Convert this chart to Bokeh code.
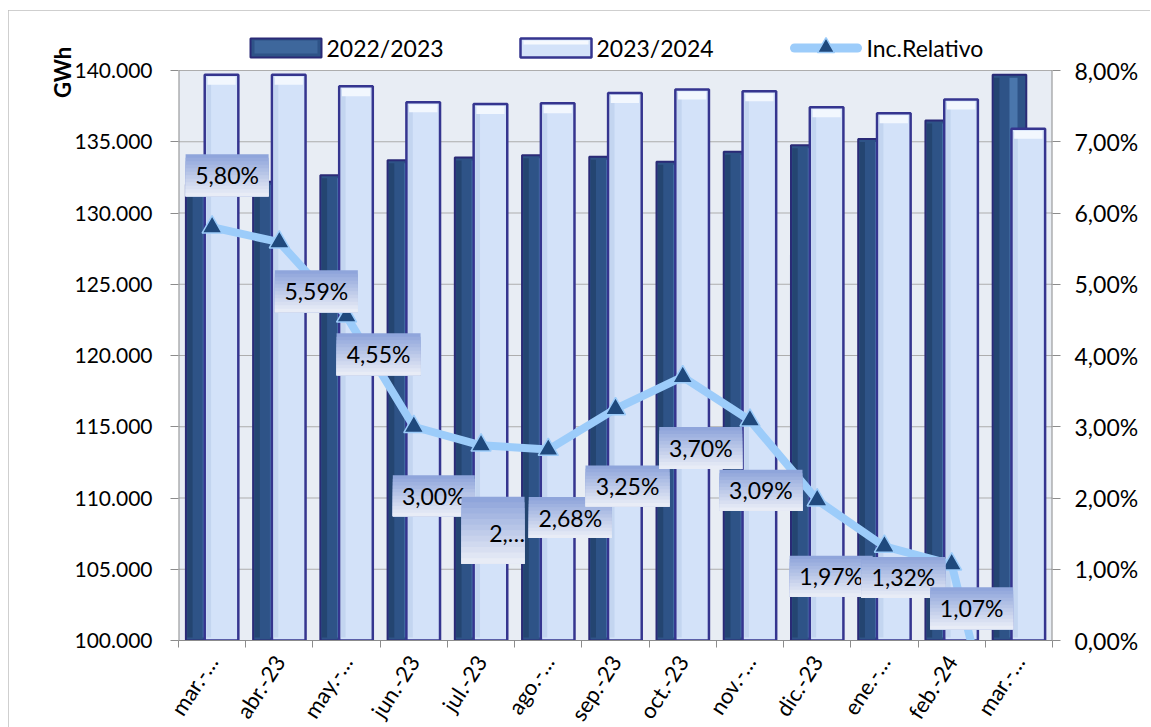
from math import pi, radians
from bokeh.plotting import figure
from bokeh.models import Range1d, LinearAxis, FixedTicker
from bokeh.core.properties import value
from bokeh.embed import file_html
from bokeh.resources import INLINE

# ---------------- data ----------------
months = ["mar.-…", "abr.-23", "may.-…", "jun.-23", "jul.-23", "ago.-…", "sep.-23",
          "oct.-23", "nov.-…", "dic.-23", "ene.-…", "feb.-24", "mar.-…"]
demand_2022_23 = [132000, 132200, 132650, 133700, 133900, 134050, 133950,
                  133600, 134300, 134750, 135200, 136500, 139700]
demand_2023_24 = [139700, 139700, 138900, 137770, 137650, 137700, 138420,
                  138660, 138550, 137420, 137000, 137960, 135920]
inc_rel_pct = [5.80, 5.59, 4.55, 3.00, 2.74, 2.68, 3.25, 3.70, 3.09, 1.97, 1.32, 1.07, -2.71]
inc_labels = ["5,80%", "5,59%", "4,55%", "3,00%", "2,…", "2,68%", "3,25%",
              "3,70%", "3,09%", "1,97%", "1,32%", "1,07%", ""]
series_names = ["2022/2023", "2023/2024", "Inc.Relativo"]
left_ticks = [100000, 105000, 110000, 115000, 120000, 125000, 130000, 135000, 140000]
left_tick_labels = ["100.000", "105.000", "110.000", "115.000", "120.000",
                    "125.000", "130.000", "135.000", "140.000"]
right_ticks = [0, 1, 2, 3, 4, 5, 6, 7, 8]
right_tick_labels = ["0,00%", "1,00%", "2,00%", "3,00%", "4,00%",
                     "5,00%", "6,00%", "7,00%", "8,00%"]
y_title = "GWh"

# ---------------- layout / style ----------------
FW, FH_AREA = 874, 570          # plot-area size in px
TOP_EXTRA = 44                  # px of frame above the plot area (legend strip)
FH = FH_AREA + TOP_EXTRA
XMIN, XMAX = -0.5, 12.5
YMIN, YMAX = 100000, 140000
PMIN, PMAX = 0, 8
px_x = (XMAX - XMIN) / FW
px_y = (YMAX - YMIN) / FH_AREA
px_p = (PMAX - PMIN) / FH_AREA
FRAME_L, AREA_B = 178, 640      # page px of plot-area left / bottom


def dx_(px):
    return XMIN + (px - FRAME_L) * px_x


def dy_(py):
    return YMIN + (AREA_B - py) * px_y


# data-label boxes: (dx, dy) offset of box centre from point in px (screen, y down), box w, h
label_layout = [(15, -52, 83, 42), (37, 49, 83, 42), (32, 38, 84, 42), (20, 69, 82, 41),
                (12, 85, 63, 67), (22, 68, 83, 41), (12, 77, 84, 41), (18, 71, 83, 42),
                (11, 70, 83, 41), (14, 76, 83, 41), (19, 31, 84, 41), (20, 44, 83, 42)]
text_shift = [(0, 0)] * 4 + [(14, 3)] + [(0, 0)] * 7
legend_swatch_px = [250, 520, 790]
FONT = "Lato"
DARK_FILL, DARK_LINE = "#2E5387", "#2A2A76"
LIGHT_FILL, LIGHT_LINE = "#D3E2F9", "#35358F"
LINE_COL, MARK_COL = "#9CCCFA", "#1F497D"

p = figure(frame_width=FW, frame_height=FH,
           x_range=Range1d(XMIN, XMAX),
           y_range=Range1d(YMIN, YMAX + TOP_EXTRA * px_y),
           output_backend="svg", toolbar_location=None,
           min_border_left=170, min_border_right=98, min_border_top=16, min_border_bottom=87)
p.margin = (10, 1, 0, 8)
p.styles = {"outline": "1px solid #BFBFBF", "outline-offset": "-1px"}
p.extra_y_ranges = {"pct": Range1d(PMIN, PMAX + TOP_EXTRA * px_p)}
p.background_fill_color = "white"
p.border_fill_color = "white"
p.outline_line_color = None
p.xgrid.visible = False
p.ygrid.visible = False

# plot area
p.quad(left=[XMIN], right=[XMAX], bottom=[YMIN], top=[YMAX],
       fill_color="#E8EDF4", line_color=None)
p.segment(x0=[XMIN] * len(left_ticks), x1=[XMAX] * len(left_ticks),
          y0=left_ticks, y1=left_ticks, line_color="#ADADAD", line_width=1)
p.segment(x0=[XMIN, XMAX], x1=[XMIN, XMAX], y0=[YMIN, YMIN], y1=[YMAX, YMAX],
          line_color="#8C8C8C", line_width=2)

xs = list(range(len(months)))
dark_x = [x - 0.14 for x in xs]
light_x = [x + 0.14 for x in xs]
BW = 0.5

p.vbar(x=dark_x, top=demand_2022_23, bottom=YMIN, width=BW,
       fill_color=DARK_FILL, line_color=DARK_LINE, line_width=2)
p.vbar(x=[x + 0.06 for x in dark_x], top=[v - 3 * px_y for v in demand_2022_23],
       bottom=YMIN + 3 * px_y, width=0.12, fill_color="#4A76AC", line_color=None)
p.vbar(x=[x - 0.19 for x in dark_x], top=[v - 3 * px_y for v in demand_2022_23],
       bottom=YMIN + 3 * px_y, width=0.08, fill_color="#244571", line_color=None)
p.vbar(x=light_x, top=demand_2023_24, bottom=YMIN, width=BW,
       fill_color=LIGHT_FILL, line_color=LIGHT_LINE, line_width=2.5)
p.vbar(x=[x - 0.19 for x in light_x], top=[v - 3 * px_y for v in demand_2023_24],
       bottom=YMIN + 3 * px_y, width=0.07, fill_color="#C3D5F0", line_color=None)
p.vbar(x=light_x, top=[v - 2 * px_y for v in demand_2023_24],
       bottom=[v - 10 * px_y for v in demand_2023_24], width=0.42,
       fill_color="#F2F7FE", line_color=None)

p.line(xs, inc_rel_pct, y_range_name="pct", line_color=LINE_COL,
       line_width=8, line_cap="round", line_join="round")
p.scatter(xs, inc_rel_pct, y_range_name="pct", marker="triangle", size=20,
          fill_color=MARK_COL, line_color=LINE_COL, line_width=1.5)

# data labels: gradient boxes + text
top_rgb = (0x8F, 0xA5, 0xDB)
bot_rgb = (0xE8, 0xEC, 0xF6)
NS = 12
for k, lab in enumerate(inc_labels):
    if not lab or inc_rel_pct[k] < PMIN:
        continue
    ddx, ddy, w, h = label_layout[k]
    cx = xs[k] + ddx * px_x
    cy = inc_rel_pct[k] - ddy * px_p
    left, right = cx - w / 2 * px_x, cx + w / 2 * px_x
    box_top, box_bot = cy + h / 2 * px_p, cy - h / 2 * px_p
    tops, bots, cols = [], [], []
    for s in range(NS):
        t = s / (NS - 1)
        c = tuple(int(round(a + (b - a) * t)) for a, b in zip(top_rgb, bot_rgb))
        tops.append(box_top - s * h / NS * px_p)
        bots.append(box_bot)
        cols.append("#%02X%02X%02X" % c)
    p.quad(left=[left] * NS, right=[right] * NS, top=tops, bottom=bots,
           fill_color=cols, line_color=None, y_range_name="pct")
    sx, sy = text_shift[k]
    p.text(x=[cx + sx * px_x], y=[cy - sy * px_p], text=[lab], y_range_name="pct",
           text_font=value(FONT), text_font_size="23px", text_color="black",
           text_align="center", text_baseline="middle")

# legend (drawn in the strip above the plot area)
ly0, ly1 = dy_(57), dy_(38)
lx = legend_swatch_px
p.quad(left=[dx_(lx[0])], right=[dx_(lx[0] + 71)], bottom=[ly0], top=[ly1],
       fill_color=DARK_FILL, line_color=DARK_LINE, line_width=2)
p.quad(left=[dx_(lx[0] + 4)], right=[dx_(lx[0] + 67)], bottom=[ly0 + 4 * px_y],
       top=[ly1 - 2 * px_y], fill_color="#3E679C", line_color=None)
p.quad(left=[dx_(lx[1])], right=[dx_(lx[1] + 71)], bottom=[ly0], top=[ly1],
       fill_color=LIGHT_FILL, line_color=LIGHT_LINE, line_width=2.5)
p.quad(left=[dx_(lx[1] + 3)], right=[dx_(lx[1] + 68)], bottom=[ly1 - 6 * px_y],
       top=[ly1 - 2 * px_y], fill_color="#F6F9FE", line_color=None)
p.line([dx_(lx[2] + 4), dx_(lx[2] + 67)], [dy_(47.5)] * 2, line_color=LINE_COL,
       line_width=9, line_cap="round")
p.scatter([dx_(lx[2] + 35.5)], [dy_(47)], marker="triangle", size=17,
          fill_color=MARK_COL, line_color=LINE_COL, line_width=1.5)
p.text(x=[dx_(v + 76) for v in lx], y=[dy_(47)] * 3, text=series_names,
       text_font=value(FONT), text_font_size="23px", text_color="black",
       text_align="left", text_baseline="middle")

# axes
p.yaxis.ticker = FixedTicker(ticks=left_ticks)
p.yaxis.major_label_overrides = dict(zip(left_ticks, left_tick_labels))
p.xaxis.ticker = FixedTicker(ticks=xs, minor_ticks=[x - 0.5 for x in xs] + [xs[-1] + 0.5])
p.xaxis.major_label_overrides = dict(zip(xs, months))
p.xaxis.major_label_orientation = radians(57)
p.xaxis.major_tick_line_color = None
p.xaxis.minor_tick_in = 0
p.xaxis.minor_tick_out = 7
p.xaxis.minor_tick_line_color = "#8C8C8C"
p.xaxis.axis_line_color = "#8C8C8C"
p.yaxis.minor_tick_line_color = None

right_axis = LinearAxis(y_range_name="pct", ticker=FixedTicker(ticks=right_ticks),
                        major_label_overrides=dict(zip(right_ticks, right_tick_labels)))
p.add_layout(right_axis, "right")

for ax in [p.xaxis[0], p.yaxis[0], right_axis]:
    ax.major_label_text_font = FONT
    ax.major_label_text_font_size = "21px"
    ax.major_label_text_color = "black"
p.xaxis[0].major_label_text_font_size = "22px"
right_axis.major_label_text_font_size = "23px"
for ax in [p.yaxis[0], right_axis]:
    ax.axis_line_color = None
    ax.major_tick_in = 0
    ax.major_tick_out = 8
    ax.major_tick_line_color = "#8C8C8C"
    ax.minor_tick_line_color = None
p.yaxis[0].major_label_standoff = 18
right_axis.major_label_standoff = 14
p.xaxis[0].major_label_standoff = 10

# "GWh" title near the top of the value axis (an extra label-only axis)
gwh_tick = YMAX - 2 * px_y
title_axis = LinearAxis(ticker=FixedTicker(ticks=[gwh_tick]),
                        major_label_overrides={gwh_tick: y_title},
                        major_label_orientation="vertical",
                        axis_line_color=None, major_tick_line_color=None,
                        minor_tick_line_color=None, major_label_standoff=-4,
                        major_tick_out=0, major_tick_in=0,
                        major_label_text_font=FONT, major_label_text_font_style="bold",
                        major_label_text_font_size="22px", major_label_text_color="black")
p.add_layout(title_axis, "left")

open("out.html", "w").write(file_html(p, INLINE))
